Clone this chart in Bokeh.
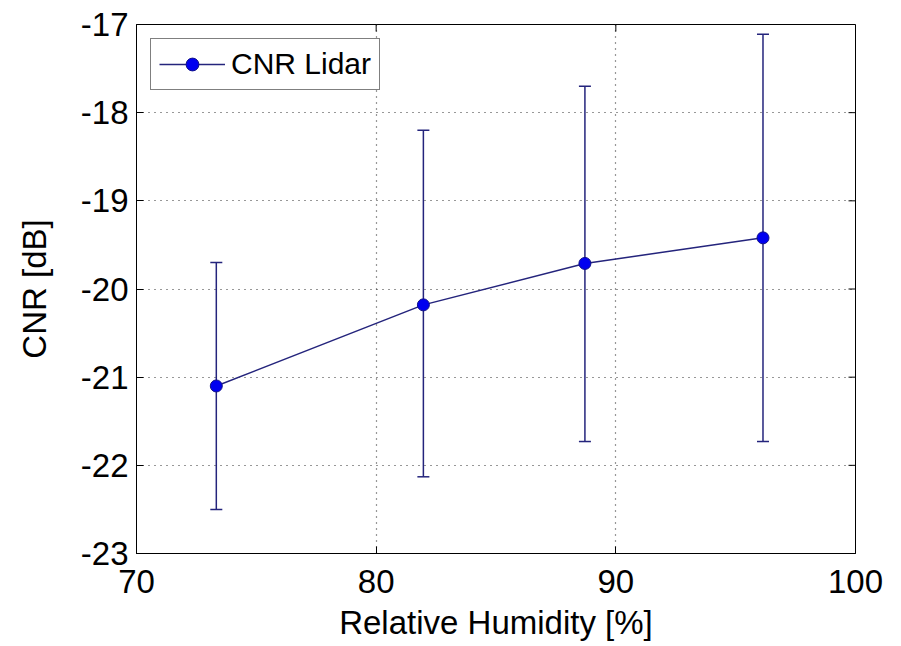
import math
from bokeh.plotting import figure
from bokeh.models import ColumnDataSource, Whisker, TeeHead, FixedTicker, Range1d, CustomJSTickFormatter
from bokeh.embed import file_html
from bokeh.resources import INLINE

# Data
humidity = [73.33, 81.97, 88.71, 96.14]
cnr_mean = [-21.10, -20.18, -19.71, -19.42]
cnr_upper = [-19.70, -18.20, -17.70, -17.11]
cnr_lower = [-22.50, -22.13, -21.73, -21.73]
x_ticks = [70, 80, 90, 100]
y_ticks = [-23, -22, -21, -20, -19, -18, -17]

FONT = "Liberation Sans"
LINE_COLOR = "#24247c"
MARKER_FILL = "#0000f0"

src = ColumnDataSource(data=dict(x=humidity, y=cnr_mean, upper=cnr_upper, lower=cnr_lower))

x_lo, x_hi = x_ticks[0], x_ticks[-1]
y_lo, y_hi = y_ticks[0], y_ticks[-1]

p = figure(width=901, height=646, output_backend="svg", toolbar_location=None,
           x_range=Range1d(x_lo, x_hi), y_range=Range1d(y_lo, y_hi),
           min_border_left=136, min_border_right=46, min_border_top=24, min_border_bottom=93)
p.background_fill_color = "white"
p.border_fill_color = "white"
p.outline_line_color = "black"
p.outline_line_width = 1

fmt = CustomJSTickFormatter(code="return tick.toString();")

# axes
for ax, ticks in ((p.xaxis[0], x_ticks), (p.yaxis[0], y_ticks)):
    ax.ticker = FixedTicker(ticks=ticks)
    ax.formatter = fmt
    ax.major_tick_in = 7
    ax.major_tick_out = 0
    ax.minor_tick_line_color = None
    ax.axis_line_color = "black"
    ax.major_tick_line_color = "black"
    ax.major_label_text_font = FONT
    ax.major_label_text_font_size = "33px"
    ax.major_label_text_color = "black"
    ax.axis_label_text_font = FONT
    ax.axis_label_text_font_size = "33px"
    ax.axis_label_text_font_style = "normal"
    ax.axis_label_text_color = "black"

p.xaxis.axis_label = "Relative Humidity [%]"
p.yaxis.axis_label = "CNR [dB]"
p.xaxis.major_label_standoff = 16
p.yaxis.major_label_standoff = 8
p.xaxis.axis_label_standoff = 8
p.yaxis.axis_label_standoff = 25

# top and right box ticks (inward), drawn at the tick values
p.ray(x=x_ticks, y=[y_hi] * len(x_ticks), length=7, length_units="screen",
      angle=-math.pi / 2, line_color="black", line_width=1)
p.ray(x=[x_hi] * len(y_ticks), y=y_ticks, length=7, length_units="screen",
      angle=math.pi, line_color="black", line_width=1)

# grid
for g, ticks in ((p.xgrid[0], x_ticks), (p.ygrid[0], y_ticks)):
    g.ticker = FixedTicker(ticks=ticks)
    g.grid_line_color = "#303030"
    g.grid_line_dash = "1 5"
    g.grid_line_width = 1.2

# error bars
wh = Whisker(source=src, base="x", upper="upper", lower="lower", dimension="height",
             line_color=LINE_COLOR, line_width=1.5,
             upper_head=TeeHead(size=12, line_color=LINE_COLOR, line_width=1.5),
             lower_head=TeeHead(size=12, line_color=LINE_COLOR, line_width=1.5))
p.add_layout(wh)

p.line("x", "y", source=src, line_color=LINE_COLOR, line_width=1.5, legend_label="CNR Lidar")
p.scatter("x", "y", source=src, size=12, fill_color=MARKER_FILL, line_color="#10108a",
          line_width=1, legend_label="CNR Lidar")

lg = p.legend[0]
lg.location = "top_left"
lg.margin = 14
lg.padding = 8
lg.spacing = 0
lg.glyph_width = 66
lg.glyph_height = 32
lg.label_standoff = 6
lg.label_text_font = FONT
lg.label_text_font_size = "30px"
lg.label_text_color = "black"
lg.border_line_color = "black"
lg.border_line_width = 1
lg.background_fill_color = "white"
lg.background_fill_alpha = 1

open("out.html", "w").write(file_html(p, INLINE))
